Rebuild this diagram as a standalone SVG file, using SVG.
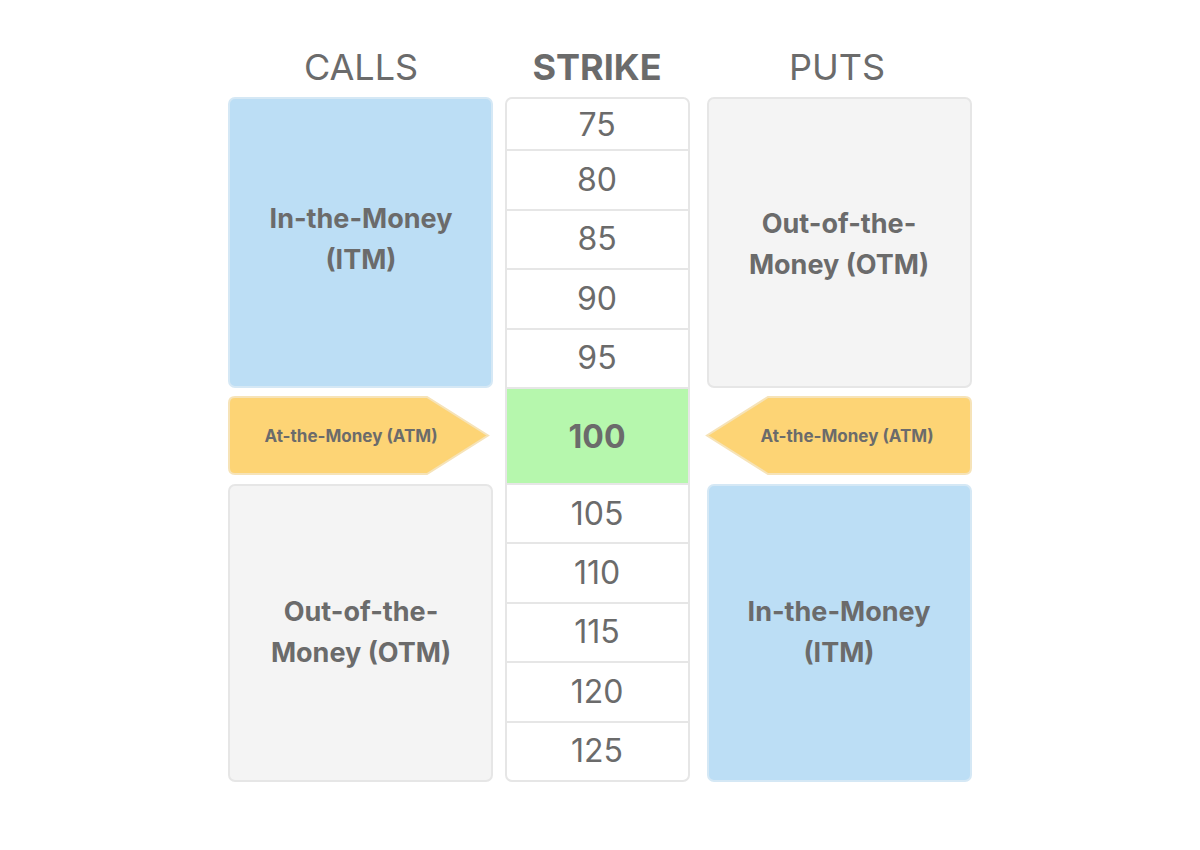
<svg xmlns="http://www.w3.org/2000/svg" width="1200" height="850" viewBox="0 0 1200 850">
<style>
text{font-family:Inter,"Noto Sans",sans-serif;fill:#6b6b6b;text-anchor:middle}
.h{font-size:36px}
.n{font-size:32px}
.b{font-size:27px;font-weight:bold}
.a{font-size:17px;font-weight:bold}
.itm{fill:#bcdef5;stroke:#d5e8f5;stroke-width:2}
.otm{fill:#f4f4f4;stroke:#e6e6e6;stroke-width:2}
.atm{fill:#fdd475;stroke:#f6e3b8;stroke-width:2}
.line{stroke:#e6e6e6;stroke-width:2}
</style>
<rect width="1200" height="850" fill="#fff"/>
<g id="headers">
<text class="h" x="361" y="80">CALLS</text>
<text class="h" x="597" y="80" font-weight="bold">STRIKE</text>
<text class="h" x="837" y="80">PUTS</text>
</g>
<g id="strike-column">
<rect x="506" y="98" width="183" height="683" rx="6" fill="#fff" stroke="#e6e6e6" stroke-width="2"/>
<rect x="507" y="388" width="181" height="96" fill="#b6f7ad"/>
<g class="line">
<line x1="506" y1="150" x2="689" y2="150"/><line x1="506" y1="210" x2="689" y2="210"/>
<line x1="506" y1="269" x2="689" y2="269"/><line x1="506" y1="329" x2="689" y2="329"/>
<line x1="506" y1="388" x2="689" y2="388"/><line x1="506" y1="484" x2="689" y2="484"/>
<line x1="506" y1="543" x2="689" y2="543"/><line x1="506" y1="603" x2="689" y2="603"/>
<line x1="506" y1="662" x2="689" y2="662"/><line x1="506" y1="722" x2="689" y2="722"/>
</g>
<text class="n" x="597" y="136">75</text>
<text class="n" x="597" y="191">80</text>
<text class="n" x="597" y="250">85</text>
<text class="n" x="597" y="310">90</text>
<text class="n" x="597" y="369">95</text>
<text class="n" x="597" y="448" font-weight="bold" font-size="34">100</text>
<text class="n" x="597" y="525">105</text>
<text class="n" x="597" y="584">110</text>
<text class="n" x="597" y="643">115</text>
<text class="n" x="597" y="703">120</text>
<text class="n" x="597" y="762">125</text>
</g>
<g id="calls-itm">
<rect class="itm" x="229" y="98" width="263" height="289" rx="6"/>
<text class="b" x="361" y="228">In-the-Money</text>
<text class="b" x="361" y="269">(ITM)</text>
</g>
<g id="calls-atm">
<path class="atm" d="M235 397 H427 L488 435.5 L427 474 H235 Q229 474 229 468 V403 Q229 397 235 397Z"/>
<text class="a" x="351" y="442">At-the-Money (ATM)</text>
</g>
<g id="calls-otm">
<rect class="otm" x="229" y="485" width="263" height="296" rx="6"/>
<text class="b" x="361" y="621">Out-of-the-</text>
<text class="b" x="361" y="662">Money (OTM)</text>
</g>
<g id="puts-otm">
<rect class="otm" x="708" y="98" width="263" height="289" rx="6"/>
<text class="b" x="839" y="233">Out-of-the-</text>
<text class="b" x="839" y="274">Money (OTM)</text>
</g>
<g id="puts-atm">
<path class="atm" d="M965 397 H768 L707 435.5 L768 474 H965 Q971 474 971 468 V403 Q971 397 965 397Z"/>
<text class="a" x="847" y="442">At-the-Money (ATM)</text>
</g>
<g id="puts-itm">
<rect class="itm" x="708" y="485" width="263" height="296" rx="6"/>
<text class="b" x="839" y="621">In-the-Money</text>
<text class="b" x="839" y="662">(ITM)</text>
</g>
<g id="connectors"/>
</svg>
